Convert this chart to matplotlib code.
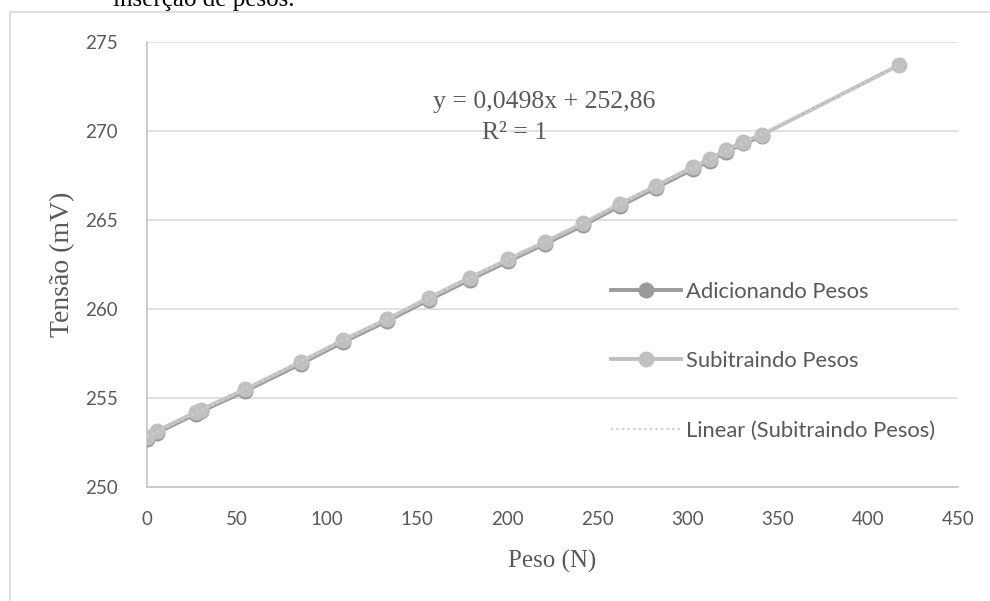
import numpy as np
import matplotlib
matplotlib.use("Agg")
import matplotlib.pyplot as plt
from matplotlib.patches import Rectangle

# values
peso_sub = [0, 5.7, 27, 30, 54.6, 85.5, 109, 133, 156.5, 179.2, 200.5, 221.1,
            242.1, 262.5, 282.3, 302.8, 312.4, 321.3, 330.9, 341.1, 417.5]
tensao_sub = [252.81, 253.15, 254.20, 254.35, 255.49, 257.04, 258.26, 259.42,
              260.63, 261.76, 262.79, 263.78, 264.81, 265.90, 266.91, 267.96,
              268.43, 268.93, 269.40, 269.78, 273.71]

peso_add = [0, 5.7, 27, 30, 54.6, 85.5, 109, 133, 156.5, 179.2, 200.5, 221.1,
            242.1, 262.5, 282.3, 302.8, 312.4, 321.3, 330.9, 341.1]
tensao_add = [252.72, 253.05, 254.10, 254.25, 255.39, 256.93, 258.15, 259.31,
              260.52, 261.65, 262.68, 263.67, 264.70, 265.79, 266.80, 267.85,
              268.33, 268.83, 269.30, 269.70]

x_ticks = [0, 50, 100, 150, 200, 250, 300, 350, 400, 450]
y_ticks = [250, 255, 260, 265, 270, 275]

sans = ["Lato", "DejaVu Sans"]
serif = ["Liberation Serif", "DejaVu Serif"]
txt_col = "#595959"

fig = plt.figure(figsize=(9.9, 6.01), dpi=100)
ax = fig.add_axes([147 / 990, 1 - 487 / 601, 811 / 990, 445 / 601])

# chart frame and the cut-off caption of the document above it
fig.patches.append(Rectangle((10 / 990, -0.1), 1.2, 1 - 12 / 601 + 0.1,
                             transform=fig.transFigure, fill=False,
                             edgecolor="#d9d9d9", linewidth=1.2))
fig.text(113 / 990, 1 - 6 / 601, "inserção de pesos.", family=serif,
         fontsize=18, color="black", va="baseline", ha="left")

ax.plot(peso_add, tensao_add, color="#9a9a9a", linewidth=2.8, marker="o",
        markersize=10.5, label="Adicionando Pesos", zorder=3)
ax.plot(peso_sub, tensao_sub, color="#c0c0c0", linewidth=2.8, marker="o",
        markersize=10.5, label="Subitraindo Pesos", zorder=4)

coef = np.polyfit(peso_sub, tensao_sub, 1)
xs = np.array([peso_sub[0], peso_sub[-1]])
ax.plot(xs, np.polyval(coef, xs), color="#cfcfcf", linewidth=1.6,
        linestyle=(0, (1, 1.5)), label="Linear (Subitraindo Pesos)", zorder=5)

ax.set_xlim(0, 450)
ax.set_ylim(250, 275)
ax.set_xticks(x_ticks)
ax.set_yticks(y_ticks)
ax.tick_params(length=0, colors=txt_col, labelsize=13.5)
ax.tick_params(axis="x", pad=17)
ax.tick_params(axis="y", pad=21)
for lab in ax.get_xticklabels() + ax.get_yticklabels():
    lab.set_family(sans)
ax.grid(axis="y", color="#d9d9d9", linewidth=1.1)
ax.set_axisbelow(True)
for s in ["top", "right"]:
    ax.spines[s].set_visible(False)
ax.spines["left"].set_color("#bfbfbf")
ax.spines["bottom"].set_color("#bfbfbf")
ax.spines["left"].set_linewidth(1.1)
ax.spines["bottom"].set_linewidth(1.1)

ax.set_xlabel("Peso (N)", family=serif, fontsize=18, color=txt_col, labelpad=16)
ax.set_ylabel("Tensão (mV)", family=serif, fontsize=20, color=txt_col, labelpad=7)

# trendline equation, as Excel placed it
fig.text(544 / 990, 1 - 102 / 601, "y = 0,0498x + 252,86", ha="center",
         va="center", family=serif, fontsize=18.5, color=txt_col)
fig.text(515 / 990, 1 - 133 / 601, "R² = 1", ha="center", va="center",
         family=serif, fontsize=18.5, color=txt_col)

leg = ax.legend(loc="upper left", bbox_to_anchor=(591 / 990, 1 - 262 / 601),
                bbox_transform=fig.transFigure, frameon=False,
                prop={"family": sans, "size": 15.8}, labelspacing=2.25,
                handlelength=3.2, handletextpad=0.25)
for t in leg.get_texts():
    t.set_color(txt_col)

fig.savefig("out.png", dpi=100)
